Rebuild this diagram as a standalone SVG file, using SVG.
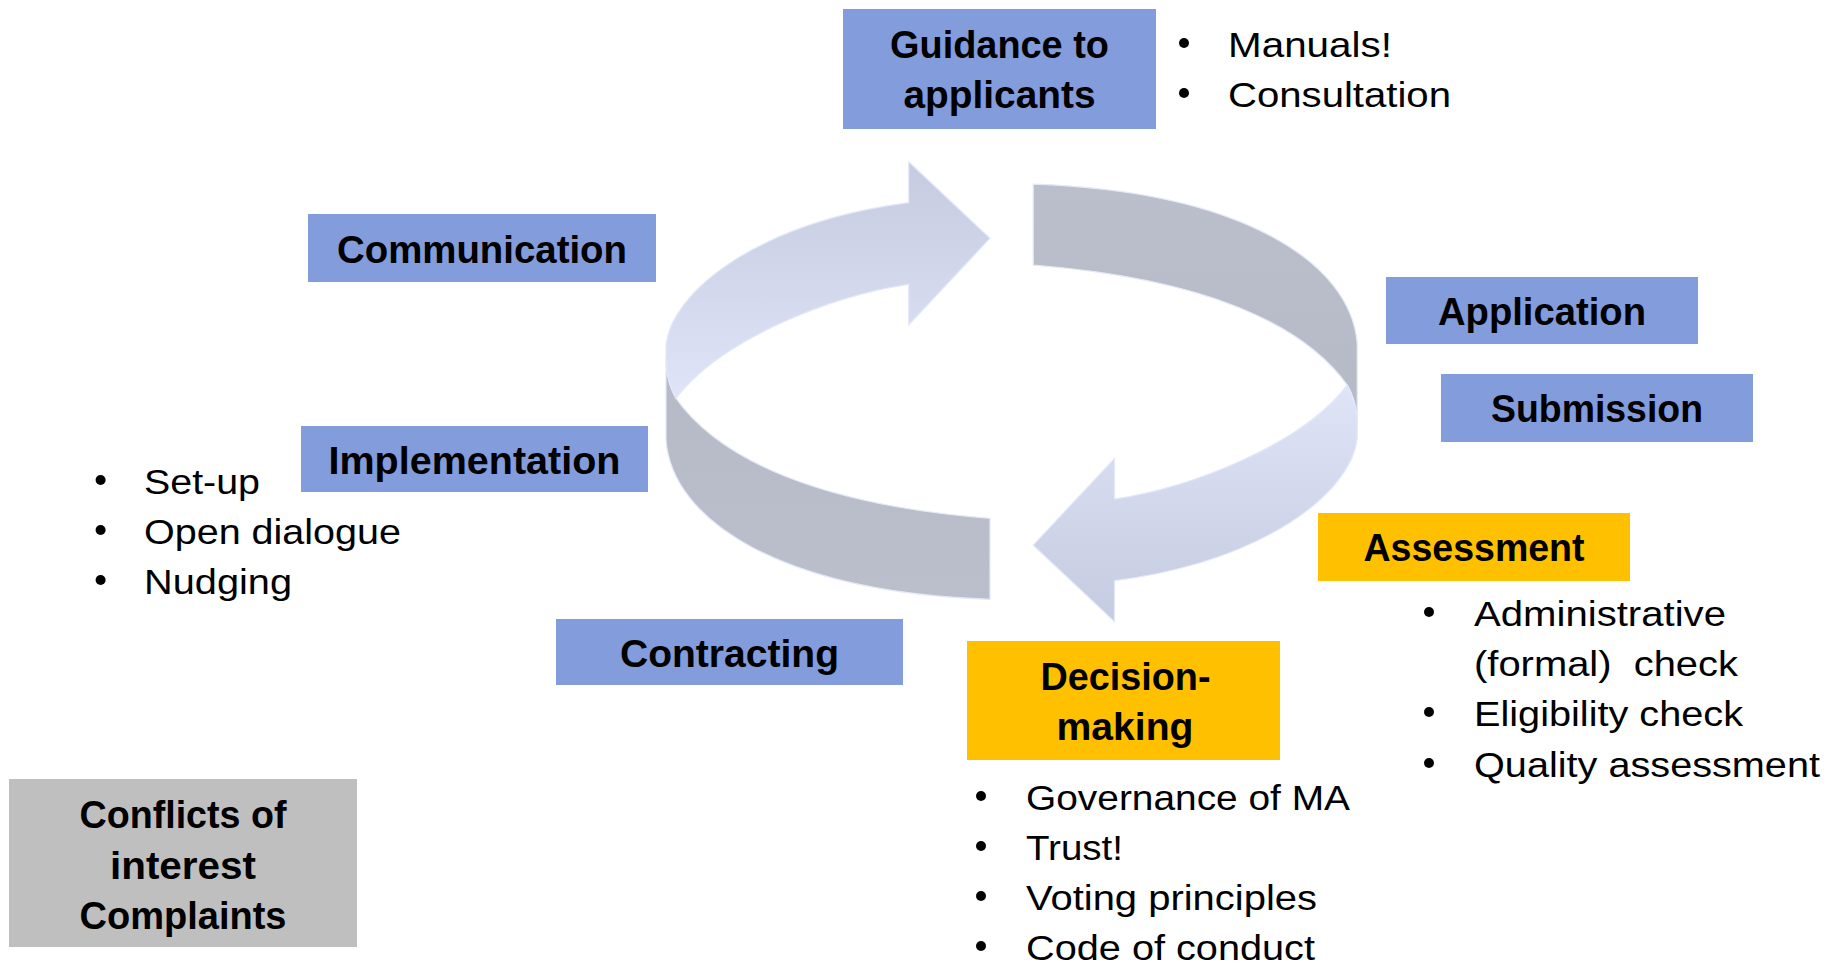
<svg xmlns="http://www.w3.org/2000/svg" xmlns:xlink="http://www.w3.org/1999/xlink" width="1834" height="965" viewBox="0 0 1834 965">
  <style>
    .box-blue { fill: #839CDC; }
    .box-yellow { fill: #FFC000; }
    .box-grey { fill: #BFBFBF; }
    .lbl { font-family: "Liberation Sans", Arial, sans-serif; font-weight: bold; font-size: 39px; fill: #000; text-anchor: middle; }
    .bul { font-family: "Liberation Sans", Arial, sans-serif; font-size: 35px; fill: #000; white-space: pre; }
    .dot { fill: #000; }
    .band { fill: url(#gGrey); stroke: #E4E8F8; stroke-width: 1.2; }
    .arrow { fill: url(#gLight); stroke: #E4E8F8; stroke-width: 1.2; }
  </style>
  <defs>
    <linearGradient id="gLight" x1="0" y1="0" x2="0" y2="1">
      <stop offset="0" stop-color="#C5CBE0"/>
      <stop offset="1" stop-color="#DFE4F7"/>
    </linearGradient>
    <linearGradient id="gGrey" x1="0" y1="0" x2="0" y2="1">
      <stop offset="0" stop-color="#B6BAC7"/>
      <stop offset="1" stop-color="#BBBFCC"/>
    </linearGradient>
  </defs>
  <rect width="1834" height="965" fill="#FFFFFF"/>

  <g id="connectors">
    <g id="cycle-half">
      <path class="band" d="M666,358 L666,440 C672,520 780,592 990,599.3 L990,518.3 C820,505 720,460 676,398.3 Q668,385 666,358 Z"/>
      <path class="arrow" d="M676,398.3 Q668,385 666,366 L666,345 C672,290 760,222 908.7,202.7 L908.7,161.7 L990,238.3 L908.7,325 L908.7,284.3 C830,296 720,340 676,398.3 Z"/>
    </g>
    <use xlink:href="#cycle-half" href="#cycle-half" transform="rotate(180 1011.6 391.7)"/>
  </g>

  <g id="guidance">
    <rect class="box-blue" x="843" y="9" width="313" height="120"/>
    <text class="lbl" x="999.5" y="57.7" textLength="219" lengthAdjust="spacingAndGlyphs">Guidance to</text>
    <text class="lbl" x="999.5" y="108.3" textLength="192" lengthAdjust="spacingAndGlyphs">applicants</text>
  </g>
  <g id="guidance-notes">
    <circle class="dot" cx="1184" cy="43" r="5"/>
    <text class="bul" x="1228" y="57" textLength="164" lengthAdjust="spacingAndGlyphs">Manuals!</text>
    <circle class="dot" cx="1184" cy="93" r="5"/>
    <text class="bul" x="1228" y="107" textLength="223" lengthAdjust="spacingAndGlyphs">Consultation</text>
  </g>

  <g id="communication">
    <rect class="box-blue" x="308" y="214" width="348" height="68"/>
    <text class="lbl" x="482" y="263" textLength="290" lengthAdjust="spacingAndGlyphs">Communication</text>
  </g>

  <g id="application">
    <rect class="box-blue" x="1386" y="277" width="312" height="67"/>
    <text class="lbl" x="1542" y="325" textLength="208" lengthAdjust="spacingAndGlyphs">Application</text>
  </g>

  <g id="submission">
    <rect class="box-blue" x="1441" y="374" width="312" height="68"/>
    <text class="lbl" x="1597" y="422" textLength="212" lengthAdjust="spacingAndGlyphs">Submission</text>
  </g>

  <g id="implementation">
    <rect class="box-blue" x="301" y="426" width="347" height="66"/>
    <text class="lbl" x="474.5" y="474" textLength="292" lengthAdjust="spacingAndGlyphs">Implementation</text>
  </g>
  <g id="implementation-notes">
    <circle class="dot" cx="100.6" cy="480" r="5"/>
    <text class="bul" x="144" y="494" textLength="116" lengthAdjust="spacingAndGlyphs">Set-up</text>
    <circle class="dot" cx="100.6" cy="530" r="5"/>
    <text class="bul" x="144" y="544" textLength="257" lengthAdjust="spacingAndGlyphs">Open dialogue</text>
    <circle class="dot" cx="100.6" cy="580" r="5"/>
    <text class="bul" x="144" y="594" textLength="148" lengthAdjust="spacingAndGlyphs">Nudging</text>
  </g>

  <g id="assessment">
    <rect class="box-yellow" x="1318" y="513" width="312" height="68"/>
    <text class="lbl" x="1474" y="561" textLength="221" lengthAdjust="spacingAndGlyphs">Assessment</text>
  </g>
  <g id="assessment-notes">
    <circle class="dot" cx="1429" cy="612" r="5"/>
    <text class="bul" x="1474" y="626" textLength="252" lengthAdjust="spacingAndGlyphs">Administrative</text>
    <text class="bul" x="1474" y="676" textLength="264" lengthAdjust="spacingAndGlyphs">(formal)  check</text>
    <circle class="dot" cx="1429" cy="712" r="5"/>
    <text class="bul" x="1474" y="726" textLength="269" lengthAdjust="spacingAndGlyphs">Eligibility check</text>
    <circle class="dot" cx="1429" cy="763" r="5"/>
    <text class="bul" x="1474" y="777" textLength="346" lengthAdjust="spacingAndGlyphs">Quality assessment</text>
  </g>

  <g id="contracting">
    <rect class="box-blue" x="556" y="619" width="347" height="66"/>
    <text class="lbl" x="729.5" y="667" textLength="219" lengthAdjust="spacingAndGlyphs">Contracting</text>
  </g>

  <g id="decision-making">
    <rect class="box-yellow" x="967" y="641" width="313" height="119"/>
    <text class="lbl" x="1125.5" y="690.3" textLength="170" lengthAdjust="spacingAndGlyphs">Decision-</text>
    <text class="lbl" x="1125" y="739.8" textLength="137" lengthAdjust="spacingAndGlyphs">making</text>
  </g>
  <g id="decision-notes">
    <circle class="dot" cx="981" cy="796" r="5"/>
    <text class="bul" x="1026" y="810" textLength="324" lengthAdjust="spacingAndGlyphs">Governance of MA</text>
    <circle class="dot" cx="981" cy="846" r="5"/>
    <text class="bul" x="1026" y="860" textLength="97" lengthAdjust="spacingAndGlyphs">Trust!</text>
    <circle class="dot" cx="981" cy="896" r="5"/>
    <text class="bul" x="1026" y="910" textLength="291" lengthAdjust="spacingAndGlyphs">Voting principles</text>
    <circle class="dot" cx="981" cy="946" r="5"/>
    <text class="bul" x="1026" y="960" textLength="289" lengthAdjust="spacingAndGlyphs">Code of conduct</text>
  </g>

  <g id="conflicts">
    <rect class="box-grey" x="9" y="779" width="348" height="168"/>
    <text class="lbl" x="183" y="827.8" textLength="207" lengthAdjust="spacingAndGlyphs">Conflicts of</text>
    <text class="lbl" x="183" y="878.5" textLength="146" lengthAdjust="spacingAndGlyphs">interest</text>
    <text class="lbl" x="183" y="929.2" textLength="207" lengthAdjust="spacingAndGlyphs">Complaints</text>
  </g>
</svg>
